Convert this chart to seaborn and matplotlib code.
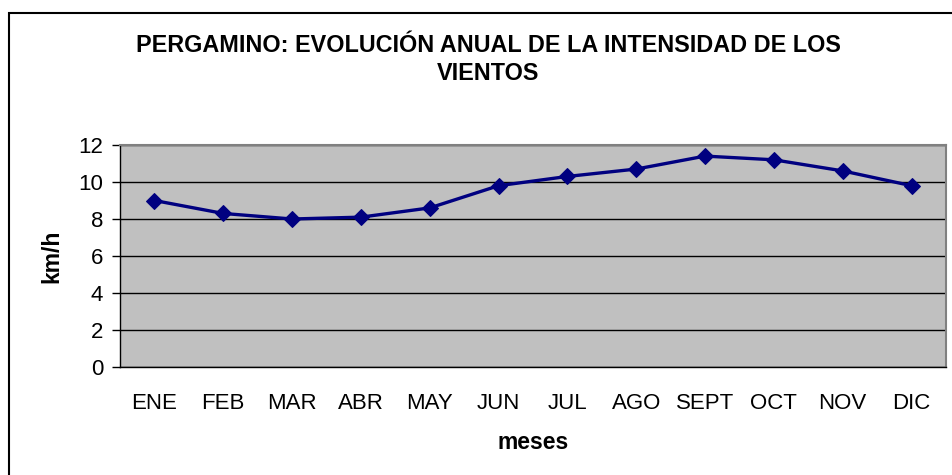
import matplotlib
matplotlib.use("Agg")
import matplotlib.pyplot as plt
import seaborn as sns
import pandas as pd
from matplotlib.patches import Rectangle

meses = ["ENE", "FEB", "MAR", "ABR", "MAY", "JUN", "JUL", "AGO", "SEPT", "OCT", "NOV", "DIC"]
intensidad = [9.0, 8.3, 8.0, 8.1, 8.6, 9.8, 10.3, 10.7, 11.4, 11.2, 10.6, 9.8]
yticks = [0, 2, 4, 6, 8, 10, 12]

sns.set_style("white")
plt.rcParams['font.family'] = ['Liberation Sans', 'DejaVu Sans']
plt.rcParams['text.color'] = "#000000"
plt.rcParams['axes.labelcolor'] = "#000000"
plt.rcParams['xtick.color'] = "#000000"
plt.rcParams['ytick.color'] = "#000000"

df = pd.DataFrame({"mes": meses, "kmh": intensidad})

fig = plt.figure(figsize=(9.53, 4.75), dpi=100)
ax = fig.add_axes([120/953, 1-367/475, 826/953, 222/475])
ax.set_facecolor("#C0C0C0")

sns.lineplot(data=df, x="mes", y="kmh", ax=ax, color="#000080", linewidth=2.4,
             marker="D", markersize=8, markeredgecolor="#000080", sort=False)

ax.set_xlim(-0.5, len(meses) - 0.5)
ax.set_ylim(0, 12)
ax.set_yticks(yticks)
ax.set_yticklabels([str(v) for v in yticks], fontsize=16)
ax.set_xticks(range(len(meses)))
ax.set_xticklabels(meses, fontsize=16)
ax.set_xticks([i - 0.5 for i in range(len(meses) + 1)], minor=True)
ax.tick_params(axis="x", which="major", length=0, pad=19)
ax.tick_params(axis="x", which="minor", length=6, width=1, color="#000000", direction="out")
ax.tick_params(axis="y", which="major", length=6, width=1, color="#000000", direction="out", pad=6, left=True)
ax.yaxis.grid(True, color="#000000", linewidth=1)
ax.xaxis.grid(False)
ax.set_axisbelow(True)

for s in ["left", "bottom"]:
    ax.spines[s].set_color("#000000")
    ax.spines[s].set_linewidth(1)
for s in ["top", "right"]:
    ax.spines[s].set_color("#808080")
    ax.spines[s].set_linewidth(1.5)

ax.set_xlabel("meses", fontsize=16.5, fontweight="bold", labelpad=12)
ax.set_ylabel("km/h", fontsize=16.5, fontweight="bold", labelpad=11)

fig.text(488/953, 1-45/475, "PERGAMINO: EVOLUCIÓN ANUAL DE LA INTENSIDAD DE LOS", ha="center", va="center",
         fontsize=16.8, fontweight="bold")
fig.text(488/953, 1-73/475, "VIENTOS", ha="center", va="center", fontsize=16.8, fontweight="bold")

fig.patches.append(Rectangle((9/953, -0.1), 1.2, 1 - 13/475 + 0.1, transform=fig.transFigure,
                             fill=False, edgecolor="#000000", linewidth=1.5))

fig.savefig("out.png", dpi=100)
